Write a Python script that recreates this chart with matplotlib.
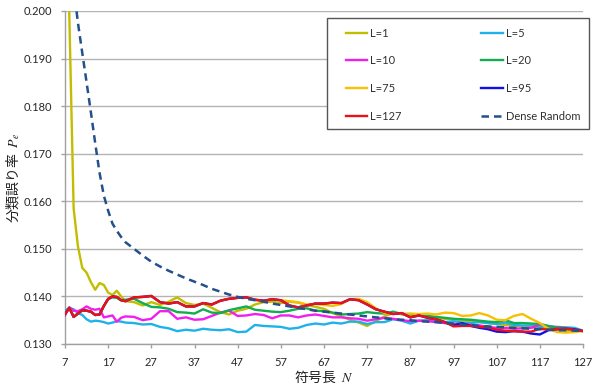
import matplotlib
matplotlib.use("Agg")
import matplotlib.pyplot as plt
from matplotlib.patches import Rectangle
from matplotlib.ticker import FormatStrFormatter

plt.rcParams['font.family'] = ['Lato', 'Noto Sans CJK JP', 'DejaVu Sans']
plt.rcParams['mathtext.fontset'] = 'stix'

# code length N (integer steps at the start, then every 2)
code_len = list(range(7, 21)) + list(range(21, 128, 2))

pe_l1 = [0.300, 0.199, 0.1585, 0.1505, 0.1460, 0.1450, 0.1430, 0.1414, 0.1428, 0.1424, 0.1408, 0.1403, 0.1412, 0.1400,
         0.1390, 0.1388, 0.1381, 0.1388, 0.1382, 0.1389, 0.1398, 0.1386, 0.1382, 0.1385,
         0.1376, 0.1367, 0.1362, 0.1370, 0.1374, 0.1383, 0.1388, 0.1389, 0.1386, 0.1389,
         0.1387, 0.1382, 0.1378, 0.1374, 0.1365, 0.1358, 0.1351, 0.1345, 0.1338, 0.1348,
         0.1358, 0.1365, 0.1363, 0.1358, 0.1362, 0.1357, 0.1355, 0.1353, 0.1352, 0.1350,
         0.1348, 0.1346, 0.1344, 0.1342, 0.1340, 0.1338, 0.1337, 0.1335, 0.1334, 0.1330,
         0.1328, 0.1327, 0.1328, 0.1327]

pe_l5 = [0.1370, 0.1376, 0.1373, 0.1365, 0.1361, 0.1352, 0.1347, 0.1349, 0.1348, 0.1346, 0.1343, 0.1345, 0.1348, 0.1347,
         0.1345, 0.1344, 0.1341, 0.1342, 0.1336, 0.1333, 0.1327, 0.1330, 0.1328, 0.1332,
         0.1330, 0.1329, 0.1331, 0.1325, 0.1326, 0.1340, 0.1338, 0.1337, 0.1336, 0.1332,
         0.1334, 0.1340, 0.1343, 0.1341, 0.1345, 0.1343, 0.1347, 0.1347, 0.1342, 0.1346,
         0.1346, 0.1352, 0.1349, 0.1343, 0.1349, 0.1350, 0.1349, 0.1346, 0.1348, 0.1345,
         0.1344, 0.1346, 0.1344, 0.1342, 0.1345, 0.1340, 0.1339, 0.1339, 0.1336, 0.1337,
         0.1336, 0.1335, 0.1334, 0.1328]

pe_l10 = [0.1360, 0.1377, 0.1370, 0.1369, 0.1373, 0.1379, 0.1374, 0.1372, 0.1374, 0.1356, 0.1358, 0.1360, 0.1347, 0.1355,
          0.1358, 0.1357, 0.1350, 0.1353, 0.1369, 0.1369, 0.1353, 0.1356, 0.1351, 0.1352,
          0.1359, 0.1366, 0.1370, 0.1359, 0.1360, 0.1363, 0.1361, 0.1354, 0.1360, 0.1360,
          0.1356, 0.1360, 0.1362, 0.1359, 0.1356, 0.1356, 0.1354, 0.1353, 0.1349, 0.1352,
          0.1355, 0.1353, 0.1350, 0.1348, 0.1349, 0.1348, 0.1346, 0.1344, 0.1342, 0.1342,
          0.1340, 0.1339, 0.1336, 0.1334, 0.1334, 0.1332, 0.1333, 0.1334, 0.1341, 0.1337,
          0.1335, 0.1333, 0.1331, 0.1328]

pe_l20 = [0.1363, 0.1376, 0.1357, 0.1364, 0.1371, 0.1370, 0.1368, 0.1361, 0.1362, 0.1380, 0.1394, 0.1398, 0.1397, 0.1392,
          0.1393, 0.1395, 0.1386, 0.1378, 0.1377, 0.1374, 0.1367, 0.1366, 0.1364, 0.1373,
          0.1366, 0.1365, 0.1371, 0.1375, 0.1379, 0.1372, 0.1370, 0.1368, 0.1367, 0.1370,
          0.1374, 0.1375, 0.1370, 0.1369, 0.1366, 0.1362, 0.1363, 0.1364, 0.1367, 0.1365,
          0.1364, 0.1368, 0.1363, 0.1363, 0.1361, 0.1359, 0.1357, 0.1355, 0.1353, 0.1352,
          0.1351, 0.1349, 0.1347, 0.1346, 0.1350, 0.1344, 0.1344, 0.1343, 0.1342, 0.1338,
          0.1334, 0.1333, 0.1331, 0.1328]

pe_l75 = [0.1363, 0.1376, 0.1357, 0.1364, 0.1371, 0.1370, 0.1368, 0.1361, 0.1362, 0.1380, 0.1395, 0.1400, 0.1399, 0.1392,
          0.1390, 0.1398, 0.1399, 0.1401, 0.1388, 0.1385, 0.1388, 0.1379, 0.1379, 0.1386,
          0.1383, 0.1391, 0.1395, 0.1397, 0.1398, 0.1393, 0.1391, 0.1394, 0.1392, 0.1390,
          0.1388, 0.1383, 0.1384, 0.1382, 0.1380, 0.1384, 0.1394, 0.1395, 0.1388, 0.1375,
          0.1365, 0.1364, 0.1363, 0.1364, 0.1363, 0.1364, 0.1362, 0.1366, 0.1365, 0.1359,
          0.1360, 0.1365, 0.1360, 0.1351, 0.1350, 0.1359, 0.1363, 0.1353, 0.1344, 0.1332,
          0.1325, 0.1324, 0.1325, 0.1328]

pe_l95 = [0.1363, 0.1376, 0.1357, 0.1364, 0.1371, 0.1370, 0.1368, 0.1361, 0.1362, 0.1380, 0.1395, 0.1400, 0.1399, 0.1392,
          0.1390, 0.1398, 0.1399, 0.1401, 0.1388, 0.1385, 0.1388, 0.1379, 0.1379, 0.1386,
          0.1383, 0.1391, 0.1395, 0.1397, 0.1398, 0.1393, 0.1391, 0.1394, 0.1392, 0.1381,
          0.1377, 0.1381, 0.1385, 0.1385, 0.1387, 0.1386, 0.1394, 0.1392, 0.1383, 0.1373,
          0.1368, 0.1363, 0.1365, 0.1356, 0.1360, 0.1355, 0.1352, 0.1346, 0.1339, 0.1344,
          0.1338, 0.1334, 0.1331, 0.1326, 0.1325, 0.1327, 0.1326, 0.1322, 0.1320, 0.1329,
          0.1331, 0.1332, 0.1331, 0.1327]

pe_l127 = [0.1363, 0.1376, 0.1357, 0.1364, 0.1371, 0.1370, 0.1368, 0.1361, 0.1362, 0.1380, 0.1395, 0.1400, 0.1399, 0.1392,
           0.1390, 0.1398, 0.1399, 0.1401, 0.1388, 0.1385, 0.1388, 0.1379, 0.1379, 0.1386,
           0.1383, 0.1391, 0.1395, 0.1397, 0.1398, 0.1393, 0.1391, 0.1394, 0.1392, 0.1381,
           0.1377, 0.1381, 0.1385, 0.1385, 0.1387, 0.1386, 0.1394, 0.1392, 0.1383, 0.1373,
           0.1368, 0.1363, 0.1365, 0.1356, 0.1360, 0.1355, 0.1352, 0.1346, 0.1337, 0.1338,
           0.1338, 0.1336, 0.1335, 0.1330, 0.1328, 0.1327, 0.1326, 0.1326, 0.1332, 0.1330,
           0.1332, 0.1332, 0.1330, 0.1327]

pe_dense = [0.2400, 0.2180, 0.2050, 0.1975, 0.1912, 0.1850, 0.1787, 0.1722, 0.1660, 0.1612, 0.1580, 0.1553, 0.1538, 0.1525,
            0.1514, 0.1500, 0.1486, 0.1473, 0.1463, 0.1454, 0.1446, 0.1438, 0.1431, 0.1424,
            0.1416, 0.1410, 0.1404, 0.1399, 0.1395, 0.1392, 0.1389, 0.1385, 0.1382, 0.1379,
            0.1376, 0.1373, 0.1370, 0.1368, 0.1366, 0.1364, 0.1362, 0.1360, 0.1358, 0.1356,
            0.1354, 0.1352, 0.1351, 0.1350, 0.1348, 0.1347, 0.1346, 0.1344, 0.1343, 0.1341,
            0.1340, 0.1338, 0.1337, 0.1336, 0.1335, 0.1334, 0.1333, 0.1332, 0.1331, 0.1330,
            0.1329, 0.1329, 0.1328, 0.1328]

series = [("L=1", pe_l1, "#C3BD00"),
          ("L=5", pe_l5, "#1FB2EA"),
          ("L=10", pe_l10, "#F21EF0"),
          ("L=20", pe_l20, "#10AE4E"),
          ("L=75", pe_l75, "#F7C000"),
          ("L=95", pe_l95, "#1010E8"),
          ("L=127", pe_l127, "#EC1118")]

x_ticks = list(range(7, 128, 10))
y_ticks = [0.130, 0.140, 0.150, 0.160, 0.170, 0.180, 0.190, 0.200]

fig = plt.figure(figsize=(5.94, 3.89), dpi=100)
ax = fig.add_axes([65 / 594, 1 - 344 / 389, 518 / 594, 333 / 389])

lines = {}
for label, vals, color in series:
    ln, = ax.plot(code_len, vals, color=color, lw=1.7, label=label,
                  solid_joinstyle='round', zorder=3)
    lines[label] = ln
ln, = ax.plot(code_len, pe_dense, color="#24508C", lw=1.8,
              linestyle=(0, (3.0, 2.0)), label="Dense Random", zorder=4)
lines["Dense Random"] = ln

ax.set_xlim(7, 127)
ax.set_ylim(0.130, 0.200)
ax.set_xticks(x_ticks)
ax.set_yticks(y_ticks)
ax.yaxis.set_major_formatter(FormatStrFormatter('%.3f'))
ax.grid(axis='y', color='#B4B4B4', lw=1.0, zorder=0)
ax.set_axisbelow(True)
for side in ('top', 'right'):
    ax.spines[side].set_visible(False)
for side in ('left', 'bottom'):
    ax.spines[side].set_color('#A0A0A0')
    ax.spines[side].set_linewidth(1.0)
ax.tick_params(axis='both', colors='#A0A0A0', length=3, width=1.0,
               labelcolor='#262626', labelsize=8)
ax.tick_params(axis='y', pad=6)
ax.tick_params(axis='x', pad=6)

ax.set_ylabel("分類誤り率  $P_e$", fontsize=10, color='#202020',
              family=['Noto Sans CJK JP', 'DejaVu Sans'])
ax.yaxis.set_label_coords(-0.083, 0.5)
ax.set_xlabel("符号長  $N$", fontsize=10, color='#202020',
              family=['Noto Sans CJK JP', 'DejaVu Sans'])
ax.xaxis.set_label_coords(0.5, -0.075)

# legend frame drawn separately so padding can match
frame = Rectangle((327 / 594, 1 - 129 / 389), 262 / 594, 111 / 389,
                  transform=fig.transFigure, facecolor='white',
                  edgecolor='#555555', lw=1.0, zorder=5, clip_on=False)
ax.add_patch(frame)
order = ["L=1", "L=10", "L=75", "L=127", "L=5", "L=20", "L=95", "Dense Random"]
leg = ax.legend([lines[k] for k in order], order, ncol=2, frameon=False,
                loc='upper left', bbox_to_anchor=(340 / 594, 1 - 22 / 389),
                bbox_transform=fig.transFigure, fontsize=8, borderpad=0,
                handlelength=1.9, handletextpad=0.3, labelspacing=1.5,
                columnspacing=7.2)
leg.set_zorder(6)
for t in leg.get_texts():
    t.set_color('#303030')

fig.savefig("out.png", dpi=100)
